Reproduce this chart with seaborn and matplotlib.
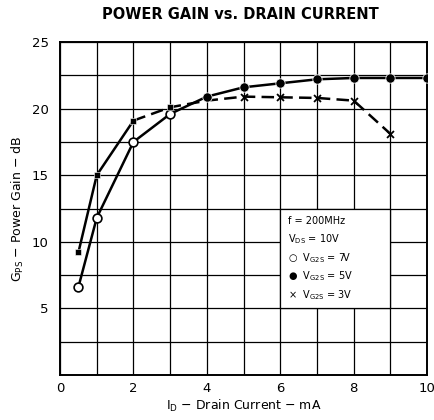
import numpy as np
import pandas as pd
import seaborn as sns
from matplotlib import pyplot as plt
from matplotlib.patches import Rectangle

# V_G2S = 7V (open circles) joins the 5V curve (filled circles) at 3 mA
current_7v = [0.5, 1, 2, 3]
gain_7v = [6.6, 11.8, 17.5, 19.6]
current_5v = [4, 5, 6, 7, 8, 9, 10]
gain_5v = [20.9, 21.6, 21.9, 22.2, 22.3, 22.3, 22.3]
# V_G2S = 3V
current_3v = [0.5, 1, 2, 3, 4, 5, 6, 7, 8, 9]
gain_3v = [9.2, 15.0, 19.1, 20.1, 20.6, 20.9, 20.85, 20.8, 20.6, 18.1]

sns.set_style("white")
plt.rcParams['font.family'] = ['DejaVu Sans']
plt.rcParams['text.color'] = "black"
plt.rcParams['axes.labelcolor'] = "black"
plt.rcParams['xtick.color'] = "black"
plt.rcParams['ytick.color'] = "black"

fig = plt.figure(figsize=(4.35, 4.2), dpi=100)
ax = fig.add_axes([0.138, 0.107, 0.844, 0.793])

solid = pd.DataFrame({"I": current_7v + current_5v, "G": gain_7v + gain_5v})
sns.lineplot(data=solid, x="I", y="G", ax=ax, color="black", lw=1.8, zorder=3)

low3 = pd.DataFrame({"I": current_3v[:3], "G": gain_3v[:3]})
high3 = pd.DataFrame({"I": current_3v[2:], "G": gain_3v[2:]})
sns.lineplot(data=low3, x="I", y="G", ax=ax, color="black", lw=1.8, zorder=3)
sns.lineplot(data=high3, x="I", y="G", ax=ax, color="black", lw=1.8,
             linestyle=(0, (5, 2.5)), zorder=3)

sns.scatterplot(x=current_7v, y=gain_7v, ax=ax, marker="o", s=40,
                facecolor="white", edgecolor="black", linewidth=1.2, zorder=4)
sns.scatterplot(x=current_5v, y=gain_5v, ax=ax, marker="o", s=45,
                color="black", zorder=4)
sns.scatterplot(x=current_3v[:4], y=gain_3v[:4], ax=ax, marker="s", s=25,
                color="black", zorder=4)
sns.scatterplot(x=current_3v[5:], y=gain_3v[5:], ax=ax, marker="x", s=25,
                color="black", linewidth=1.3, zorder=4)

ax.set_xlim(0, 10)
ax.set_ylim(0, 25)
ax.set_xticks(np.arange(0, 11, 1))
ax.set_yticks(np.arange(0, 25.1, 2.5))
ax.set_xticklabels([str(v) if v % 2 == 0 else "" for v in range(11)])
ax.set_yticklabels(["" if v % 5 or v == 0 else str(int(v))
                    for v in np.arange(0, 25.1, 2.5)])
ax.tick_params(length=0, labelsize=9.5)
ax.tick_params(axis="x", pad=5)
ax.tick_params(axis="y", pad=8)
ax.grid(True, color="black", lw=0.9)
ax.set_axisbelow(True)
for side in ax.spines.values():
    side.set_color("black")
    side.set_linewidth(1.4)

# legend box
ax.add_patch(Rectangle((6, 5), 3, 7.5, facecolor="white", edgecolor="black",
                       lw=0.9, zorder=2))
lx = 6.2
ax.text(lx, 11.6, "f = 200MHz", fontsize=7, va="center", zorder=5)
ax.text(lx, 10.2, r"V$_{\rm DS}$ = 10V", fontsize=7, va="center", zorder=5)
ax.text(lx, 8.8, "○  V$_{\\rm G2S}$ = 7V", fontsize=7, va="center", zorder=5)
ax.text(lx, 7.4, "●  V$_{\\rm G2S}$ = 5V", fontsize=7, va="center", zorder=5)
ax.text(lx, 6.0, "×  V$_{\\rm G2S}$ = 3V", fontsize=7, va="center", zorder=5)

ax.set_xlabel(r"I$_{\rm D}$ $-$ Drain Current $-$ mA", fontsize=9, labelpad=2)
ax.set_ylabel(r"G$_{\rm PS}$ $-$ Power Gain $-$ dB", fontsize=9, labelpad=4)
fig.text(0.552, 0.965, "POWER GAIN vs. DRAIN CURRENT", ha="center", va="center",
         fontsize=10.5, fontweight="bold")

fig.savefig("out.png", dpi=100)
